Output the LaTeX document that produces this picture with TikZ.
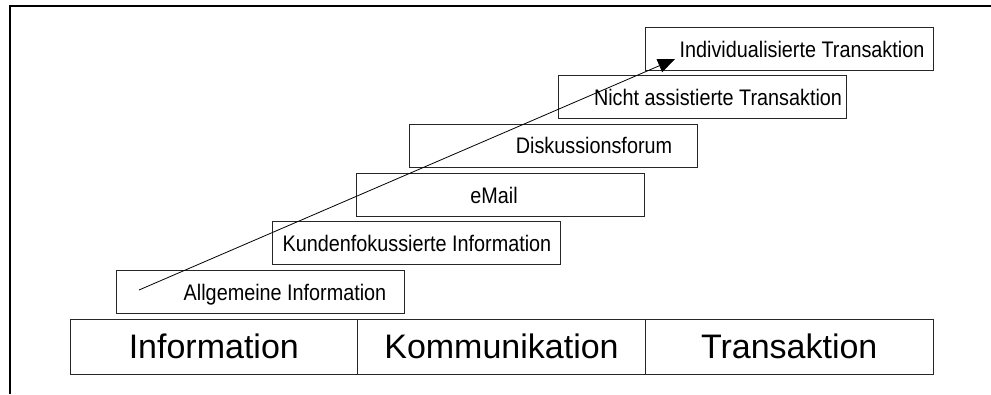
\documentclass[tikz,border=0pt]{standalone}
\usepackage{fontspec}
\setmainfont{Liberation Sans}
\newfontfamily\narrowsans[FakeStretch=0.88]{Liberation Sans}
\usetikzlibrary{arrows.meta, positioning, calc}

\begin{document}
\begin{tikzpicture}[
    x=1pt, y=-1pt,
    stage/.style={rectangle, draw=black!85, line width=0.9pt, minimum width=288pt, minimum height=43pt, inner sep=0pt},
    stagetext/.style={anchor=base, inner sep=0pt, font=\narrowsans\fontsize{22.5}{26}\selectfont},
    phase/.style={rectangle, draw=black!85, line width=0.9pt, minimum width=287.7pt, minimum height=55pt, outer sep=0pt, font=\fontsize{34}{40}\selectfont},
    arrow/.style={-{Triangle[length=17pt, width=14pt]}, line width=0.8pt}
]
    \useasboundingbox (0,0) rectangle (991,394);
    % frame
    \draw[line width=2pt] (10,394) -- (10,6) -- (991,6);

    % phases
    \node[phase] (info) at (213.8,346.5) {Information};
    \node[phase, right=0pt of info] (komm) {Kommunikation};
    \node[phase, right=0pt of komm] (trans) {Transaktion};

    % stages
    \node[stage] (allg) at (260.5,292) {};
    \node[stage] (kunden) at (416,243) {};
    \node[stage] (email) at (500,195) {};
    \node[stage] (forum) at (553.5,145.5) {};
    \node[stage] (nicht) at (702.5,97) {};
    \node[stage] (indiv) at (789.5,49) {};

    \node[stagetext] (allgtxt) at ($(allg.center)+(24.5,8)$) {Allgemeine Information};
    \node[stagetext] (kundentxt) at ($(kunden.center)+(1,8)$) {Kundenfokussierte Information};
    \node[stagetext] (emailtxt) at ($(email.center)+(-6,8)$) {eMail};
    \node[stagetext] (forumtxt) at ($(forum.center)+(40.5,8)$) {Diskussionsforum};
    \node[stagetext] (nichttxt) at ($(nicht.center)+(15.5,8)$) {Nicht assistierte Transaktion};
    \node[stagetext] (indivtxt) at ($(indiv.center)+(12.5,8)$) {Individualisierte Transaktion};

    % progression
    \coordinate (start) at (139,290);
    \coordinate (goal) at (675,59);
    \draw[arrow] (start) -- (goal);
\end{tikzpicture}
\end{document}
